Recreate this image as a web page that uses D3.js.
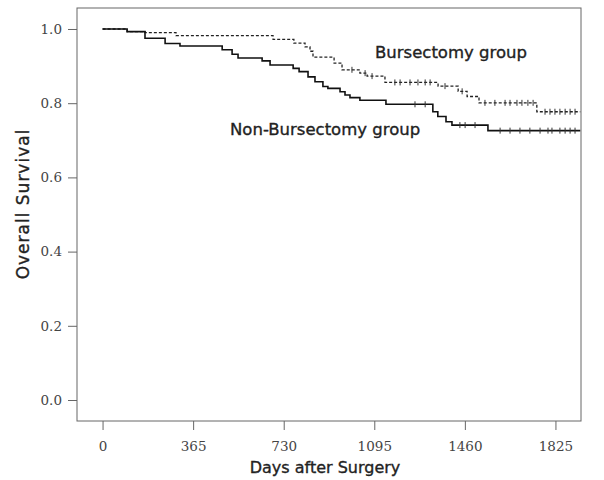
<!DOCTYPE html>
<html>
<head>
<meta charset="utf-8">
<script src="https://cdn.jsdelivr.net/npm/d3@7"></script>
<style>
  body { margin: 0; background: #fff; }
  svg { display: block; }
  .tick text { font-family: 'DejaVu Serif', serif; font-size: 13.5px; fill: #444; }
  .lbl { font-family: 'DejaVu Sans', sans-serif; fill: #222; stroke: #222; stroke-width: 0.35; }
</style>
</head>
<body>
<svg width="604" height="480"></svg>
<script>
// Kaplan-Meier steps (days, survival)
const bursTimes = [0, 99, 171, 296, 687, 771, 816, 836, 848, 933, 965, 1037, 1066, 1138, 1352, 1433, 1469, 1517, 1750]
const bursSurv = [1.0, 0.993, 0.990, 0.982, 0.972, 0.962, 0.952, 0.940, 0.924, 0.908, 0.890, 0.881, 0.873, 0.856, 0.846, 0.832, 0.818, 0.801, 0.777]
const bursCensor = [1005, 1058, 1086, 1178, 1199, 1239, 1271, 1300, 1320, 1380, 1449, 1541, 1581, 1622, 1642, 1670, 1690, 1714, 1735, 1783, 1803, 1823, 1843, 1864, 1884, 1904]

const nonTimes = [0, 99, 171, 252, 312, 482, 522, 546, 643, 675, 768, 792, 828, 856, 888, 908, 957, 977, 997, 1037, 1142, 1331, 1351, 1384, 1408, 1553]
const nonSurv = [1.0, 0.993, 0.975, 0.961, 0.954, 0.944, 0.932, 0.922, 0.914, 0.903, 0.894, 0.885, 0.871, 0.858, 0.845, 0.840, 0.831, 0.822, 0.815, 0.808, 0.797, 0.777, 0.764, 0.750, 0.741, 0.726]
const nonCensor = [1259, 1300, 1440, 1461, 1501, 1602, 1642, 1682, 1722, 1763, 1795, 1811, 1843, 1864, 1884, 1904]

const lastDay = 1925
const xTicks = [0, 365, 730, 1095, 1460, 1825]
const yTicks = [0, 0.2, 0.4, 0.6, 0.8, 1.0]

const svg = d3.select('svg')
const box = { left: 77, right: 581, top: 8, bottom: 421 }

const x = d3.scaleLinear().domain([-103, 1928]).range([box.left, box.right])
const y = d3.scaleLinear().domain([-0.0566, 1.0566]).range([box.bottom, box.top])

svg.append('rect')
  .attr('x', box.left).attr('y', box.top)
  .attr('width', box.right - box.left).attr('height', box.bottom - box.top)
  .attr('fill', 'none').attr('stroke', '#666').attr('stroke-width', 1)

const xAxis = svg.append('g')
  .attr('transform', `translate(0,${box.bottom})`)
  .call(d3.axisBottom(x).tickValues(xTicks).tickSize(9).tickPadding(11).tickFormat(d3.format('d')))
const yAxis = svg.append('g')
  .attr('transform', `translate(${box.left},0)`)
  .call(d3.axisLeft(y).tickValues(yTicks).tickSize(9).tickPadding(6).tickFormat(d3.format('.1f')))
axisStyle(xAxis)
axisStyle(yAxis)

function axisStyle (g) {
  g.select('.domain').remove()
  g.selectAll('.tick line').attr('stroke', '#666')
  g.selectAll('.tick text').attr('fill', '#444')
}

function steps (times, surv) {
  const pts = times.map((t, i) => [t, surv[i]])
  pts.push([lastDay, surv[surv.length - 1]])
  return pts
}

function survAt (times, surv, t) {
  const i = d3.bisectRight(times, t) - 1
  return surv[Math.max(0, i)]
}

const line = d3.line()
  .x(d => x(d[0]))
  .y(d => y(d[1]))
  .curve(d3.curveStepAfter)

svg.append('path')
  .datum(steps(bursTimes, bursSurv))
  .attr('d', line)
  .attr('fill', 'none').attr('stroke', '#222')
  .attr('stroke-width', 1.3).attr('stroke-dasharray', '3,2')

svg.append('path')
  .datum(steps(nonTimes, nonSurv))
  .attr('d', line)
  .attr('fill', 'none').attr('stroke', '#111')
  .attr('stroke-width', 1.6)

// censor marks
const marks = bursCensor.map(t => [t, survAt(bursTimes, bursSurv, t)])
  .concat(nonCensor.map(t => [t, survAt(nonTimes, nonSurv, t)]))
svg.append('g').selectAll('line')
  .data(marks)
  .join('line')
  .attr('x1', d => x(d[0])).attr('x2', d => x(d[0]))
  .attr('y1', d => y(d[1]) - 3).attr('y2', d => y(d[1]) + 3)
  .attr('stroke', '#333').attr('stroke-width', 1)

svg.append('text').attr('class', 'lbl')
  .attr('x', 375).attr('y', 58)
  .style('font-size', '16.5px')
  .text('Bursectomy group')
svg.append('text').attr('class', 'lbl')
  .attr('x', 230).attr('y', 135)
  .style('font-size', '16.5px')
  .text('Non-Bursectomy group')

svg.append('text').attr('class', 'lbl')
  .attr('text-anchor', 'middle')
  .style('font-size', '16px')
  .attr('x', 325).attr('y', 473)
  .text('Days after Surgery')
svg.append('text').attr('class', 'lbl')
  .attr('text-anchor', 'middle')
  .style('font-size', '17px')
  .style('letter-spacing', '1px')
  .attr('transform', 'translate(29,204) rotate(-90)')
  .text('Overall Survival')
</script>
</body>
</html>
